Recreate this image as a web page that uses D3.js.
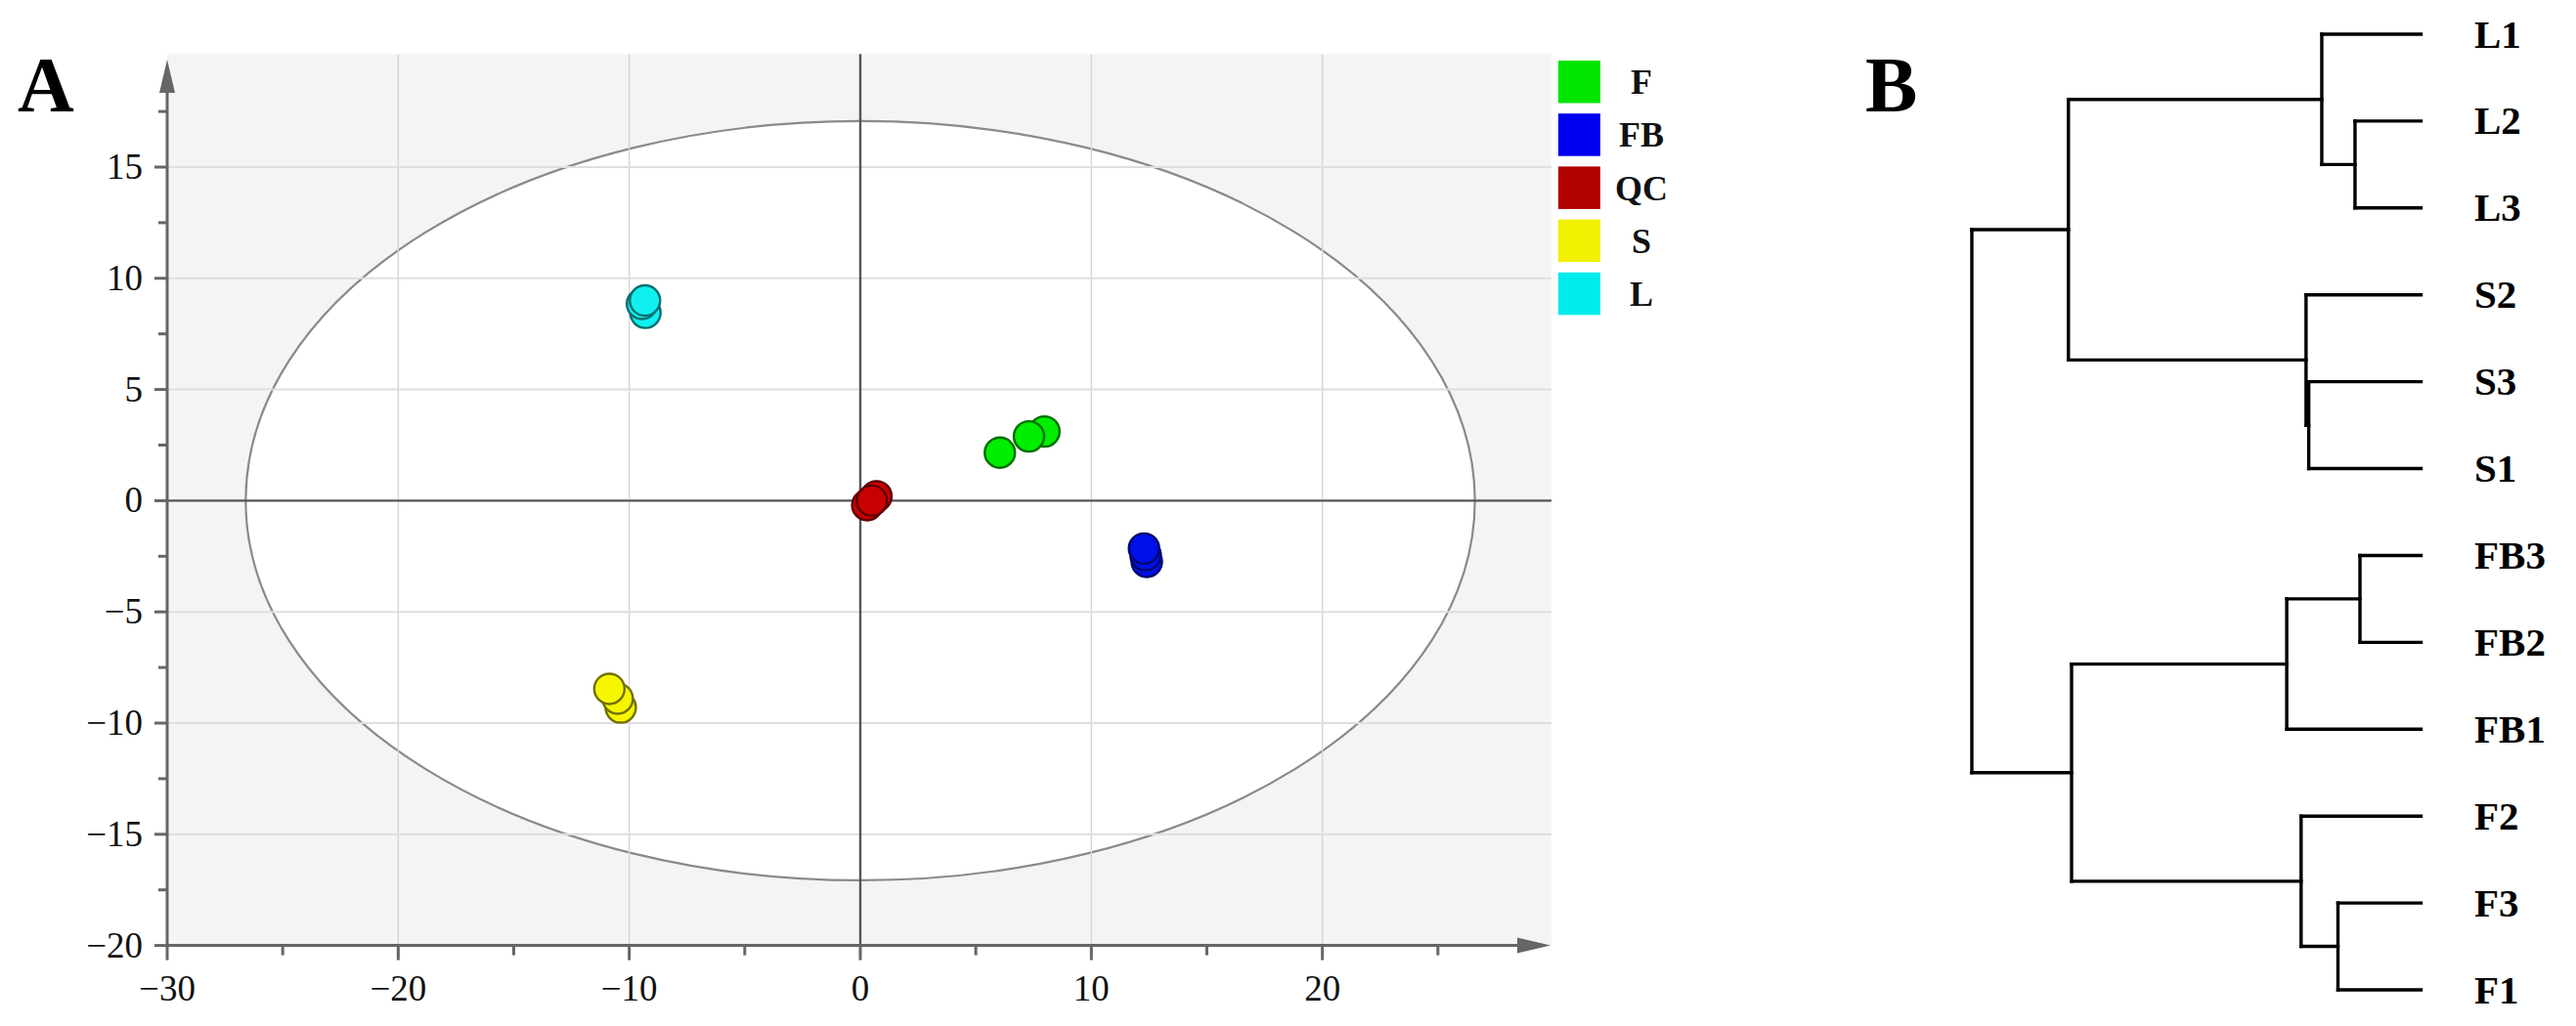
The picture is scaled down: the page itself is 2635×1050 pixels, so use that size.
<!DOCTYPE html>
<html>
<head>
<meta charset="utf-8">
<script src="https://cdn.jsdelivr.net/npm/d3@7"></script>
<style>
  html, body { margin: 0; padding: 0; background: #fff; }
  svg { display: block; }
</style>
</head>
<body>
<svg id="chart" width="2635" height="1050"></svg>
<script>
// ---------- Panel A data (PCA scores) ----------
const groups = ["F", "FB", "QC", "S", "L"];
const groupColors = ["#00e600", "#0000f0", "#b00000", "#f0f000", "#00ebeb"];
const dotColors = ["#00ee00", "#0010e8", "#c80000", "#f6f600", "#10f0f0"];

const F_x  = [7.97, 7.30, 6.04];
const F_y  = [3.11, 2.89, 2.16];
const FB_x = [12.40, 12.35, 12.28];
const FB_y = [-2.75, -2.45, -2.15];
const QC_x = [0.70, 0.30, 0.50];
const QC_y = [0.20, -0.20, 0.00];
const S_x  = [-10.37, -10.50, -10.86];
const S_y  = [-9.30, -8.90, -8.46];
const L_x  = [-9.30, -9.45, -9.32];
const L_y  = [8.45, 8.85, 9.00];

const xTicksMajor = [-30, -20, -10, 0, 10, 20];
const xTicksMinor = [-25, -15, -5, 5, 15, 25];
const yTicksMajor = [-20, -15, -10, -5, 0, 5, 10, 15];
const yTicksMinor = [-17.5, -12.5, -7.5, -2.5, 2.5, 7.5, 12.5, 17.5];
const ellipseRadii = [26.6, 17.07]; // Hotelling T2 ellipse semi-axes (x, y)

// ---------- Panel B data (dendrogram) ----------
const leafOrder   = ["L1","L2","L3","S2","S3","S1","FB3","FB2","FB1","F2","F3","F1"];
const nodeIds     = ["root","LS","FBF","L","L23","S","S31","FB","FB32","F","F31",
                     "L1","L2","L3","S2","S3","S1","FB3","FB2","FB1","F2","F3","F1"];
const nodeParents = ["","root","root","LS","L","LS","S","FBF","FB","FBF","F",
                     "L","L23","L23","S","S31","S31","FB32","FB32","FB","F","F31","F31"];
const nodeHeights = [1.000,0.785,0.778,0.221,0.147,0.256,0.250,0.299,0.136,0.267,0.185,
                     0,0,0,0,0,0,0,0,0,0,0,0];

// ---------- Drawing ----------
const FONT = "'Liberation Serif', 'Times New Roman', Times, serif";
const svg = d3.select("#chart");

// Panel A scales
const x = d3.scaleLinear().domain([-30, 30]).range([171, 1589]);
const y = d3.scaleLinear().domain([-20, 20]).range([967.6, 57.2]);
const axisColor = "#666";

const gA = svg.append("g");

// plot background
gA.append("rect")
  .attr("x", x(-30)).attr("y", y(20) - 2)
  .attr("width", x(30) - x(-30) - 2).attr("height", y(-20) - y(20) + 2)
  .attr("fill", "#f4f4f4");

// ellipse
gA.append("ellipse")
  .attr("cx", x(0)).attr("cy", y(0))
  .attr("rx", x(ellipseRadii[0]) - x(0))
  .attr("ry", y(0) - y(ellipseRadii[1]))
  .attr("fill", "#ffffff")
  .attr("stroke", "#8a8a8a").attr("stroke-width", 2.2);

// grid lines
gA.selectAll(".vgrid").data(xTicksMajor.filter(d => d !== 0 && d !== -30))
  .join("line")
  .attr("x1", d => x(d)).attr("x2", d => x(d))
  .attr("y1", y(20) - 2).attr("y2", y(-20))
  .attr("stroke", "#d6d6d6").attr("stroke-width", 1.4);
gA.selectAll(".hgrid").data(yTicksMajor.filter(d => d !== 0 && d !== -20))
  .join("line")
  .attr("x1", x(-30)).attr("x2", x(30) - 2)
  .attr("y1", d => y(d)).attr("y2", d => y(d))
  .attr("stroke", "#dedede").attr("stroke-width", 2);

// zero lines
gA.append("line")
  .attr("x1", x(0)).attr("x2", x(0))
  .attr("y1", y(20) - 2).attr("y2", y(-20))
  .attr("stroke", "#555").attr("stroke-width", 2.4);
gA.append("line")
  .attr("x1", x(-30)).attr("x2", x(30) - 2)
  .attr("y1", y(0)).attr("y2", y(0))
  .attr("stroke", "#555").attr("stroke-width", 2.4);

// axes lines
gA.append("line")
  .attr("x1", x(-30)).attr("x2", x(-30))
  .attr("y1", y(-20)).attr("y2", 80)
  .attr("stroke", axisColor).attr("stroke-width", 3);
gA.append("line")
  .attr("x1", x(-30)).attr("x2", 1565)
  .attr("y1", y(-20)).attr("y2", y(-20))
  .attr("stroke", axisColor).attr("stroke-width", 3);
// arrows
gA.append("path")
  .attr("d", `M${x(-30)},61 L${x(-30) - 8},95 L${x(-30) + 8},95 Z`)
  .attr("fill", axisColor);
gA.append("path")
  .attr("d", `M1586,${y(-20)} L1552,${y(-20) - 8} L1552,${y(-20) + 8} Z`)
  .attr("fill", axisColor);

// ticks
gA.selectAll(".ytM").data(yTicksMajor).join("line")
  .attr("x1", x(-30) - 13).attr("x2", x(-30))
  .attr("y1", d => y(d)).attr("y2", d => y(d))
  .attr("stroke", axisColor).attr("stroke-width", 3);
gA.selectAll(".ytm").data(yTicksMinor).join("line")
  .attr("x1", x(-30) - 9).attr("x2", x(-30))
  .attr("y1", d => y(d)).attr("y2", d => y(d))
  .attr("stroke", axisColor).attr("stroke-width", 3);
gA.selectAll(".xtM").data(xTicksMajor).join("line")
  .attr("x1", d => x(d)).attr("x2", d => x(d))
  .attr("y1", y(-20)).attr("y2", y(-20) + 15)
  .attr("stroke", axisColor).attr("stroke-width", 3);
gA.selectAll(".xtm").data(xTicksMinor).join("line")
  .attr("x1", d => x(d)).attr("x2", d => x(d))
  .attr("y1", y(-20)).attr("y2", y(-20) + 10)
  .attr("stroke", axisColor).attr("stroke-width", 3);

const fmt = d3.format("d");
gA.selectAll(".ytl").data(yTicksMajor).join("text")
  .attr("x", 146).attr("y", d => y(d) + 12)
  .attr("text-anchor", "end")
  .attr("font-family", FONT)
  .attr("font-size", 37).attr("fill", "#111")
  .text(d => fmt(d));
gA.selectAll(".xtl").data(xTicksMajor).join("text")
  .attr("x", d => x(d)).attr("y", 1024)
  .attr("text-anchor", "middle")
  .attr("font-family", FONT)
  .attr("font-size", 37).attr("fill", "#111")
  .text(d => fmt(d));

// points
const groupXs = [F_x, FB_x, QC_x, S_x, L_x];
const groupYs = [F_y, FB_y, QC_y, S_y, L_y];
const drawOrder = [1, 2, 0, 4, 3];
drawOrder.forEach(gi => {
  const pts = groupXs[gi].map((v, i) => [v, groupYs[gi][i]]);
  const c = d3.color(dotColors[gi]);
  gA.append("g").selectAll("circle").data(pts).join("circle")
    .attr("cx", d => x(d[0])).attr("cy", d => y(d[1]))
    .attr("r", 15.5)
    .attr("fill", dotColors[gi])
    .attr("stroke", c.darker(2.2).formatHex())
    .attr("stroke-width", 2.4);
});

// legend
const legG = gA.append("g");
groups.forEach((g, i) => {
  const yy = 62 + i * 54.2;
  legG.append("rect")
    .attr("x", 1594).attr("y", yy)
    .attr("width", 43).attr("height", 43.5)
    .attr("fill", groupColors[i]);
  legG.append("text")
    .attr("x", 1679).attr("y", yy + 21.75 + 12.5)
    .attr("text-anchor", "middle")
    .attr("font-family", FONT)
    .attr("font-size", 36).attr("font-weight", "bold").attr("fill", "#111")
    .text(g);
});

// panel letters
svg.append("text").attr("x", 18).attr("y", 114)
  .attr("font-family", FONT)
  .attr("font-size", 80).attr("font-weight", "bold").attr("fill", "#000").text("A");
svg.append("text").attr("x", 1908).attr("y", 114)
  .attr("font-family", FONT)
  .attr("font-size", 80).attr("font-weight", "bold").attr("fill", "#000").text("B");

// ---------- Panel B: dendrogram ----------
const table = nodeIds.map((id, i) => ({ id, parent: nodeParents[i] || null, h: nodeHeights[i] }));
const root = d3.stratify().id(d => d.id).parentId(d => d.parent)(table);

const dx = d3.scaleLinear().domain([1, 0]).range([2017, 2476.5]);
const dy = d3.scalePoint().domain(leafOrder).range([35, 1013]);

root.eachAfter(n => {
  n.px = dx(n.data.h);
  if (!n.children) n.py = dy(n.data.id);
  else n.py = (d3.min(n.children, c => c.py) + d3.max(n.children, c => c.py)) / 2;
});

const gB = svg.append("g").attr("stroke", "#000").attr("stroke-width", 3.4)
  .attr("fill", "none").attr("stroke-linecap", "square");
root.each(n => {
  if (!n.children) return;
  const ys = n.children.map(c => c.py);
  gB.append("line")
    .attr("x1", n.px).attr("x2", n.px)
    .attr("y1", d3.min(ys)).attr("y2", d3.max(ys));
  n.children.forEach(c => {
    gB.append("line")
      .attr("x1", n.px).attr("x2", c.px)
      .attr("y1", c.py).attr("y2", c.py);
  });
});

svg.append("g").selectAll("text").data(root.leaves()).join("text")
  .attr("x", 2531).attr("y", d => d.py + 13.5)
  .attr("font-family", FONT)
  .attr("font-size", 41).attr("font-weight", "bold").attr("fill", "#000")
  .text(d => d.data.id);
</script>
</body>
</html>
